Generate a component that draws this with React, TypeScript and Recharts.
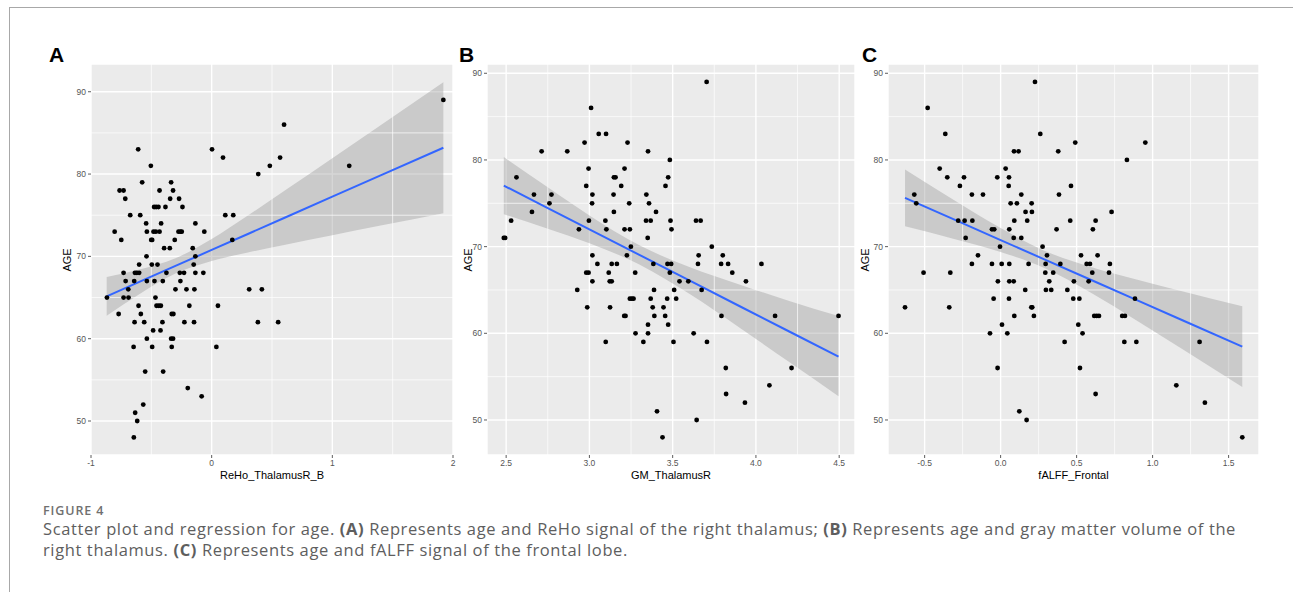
import React from "react";
import {
  ComposedChart,
  Scatter,
  Line,
  Area,
  XAxis,
  YAxis,
  CartesianGrid,
  ReferenceLine,
} from "recharts";

// ---------- Panel A: ReHo_ThalamusR_B vs AGE ----------
const reHoPoints: [number, number][] = [
  [1.92, 89], [0.6, 86], [-0.609, 83], [0.003, 83], [0.094, 82], [0.567, 82],
  [-0.504, 81], [0.482, 81], [1.14, 81], [0.386, 80], [-0.576, 79], [-0.336, 79],
  [-0.763, 78], [-0.73, 78], [-0.432, 78], [-0.32, 78], [-0.716, 77], [-0.344, 77],
  [-0.27, 77], [-0.477, 76], [-0.46, 76], [-0.441, 76], [-0.383, 76], [-0.242, 76],
  [-0.675, 75], [-0.592, 75], [0.113, 75], [0.179, 75], [-0.543, 74], [-0.419, 74],
  [-0.135, 74], [-0.804, 73], [-0.537, 73], [-0.482, 73], [-0.463, 73], [-0.432, 73],
  [-0.275, 73], [-0.259, 73], [-0.248, 73], [-0.061, 73], [-0.749, 72], [-0.501, 72],
  [-0.493, 72], [-0.306, 72], [0.171, 72], [-0.394, 71], [-0.347, 71], [-0.157, 71],
  [-0.54, 70], [-0.135, 70], [-0.601, 69], [-0.496, 69], [-0.449, 69], [-0.149, 69],
  [-0.73, 68], [-0.636, 68], [-0.62, 68], [-0.601, 68], [-0.375, 68], [-0.264, 68],
  [-0.229, 68], [-0.135, 68], [-0.069, 68], [-0.713, 67], [-0.642, 67], [-0.537, 67],
  [-0.474, 67], [-0.405, 67], [-0.259, 67], [-0.691, 66], [-0.3, 66], [-0.209, 66],
  [-0.143, 66], [0.311, 66], [0.416, 66], [-0.868, 65], [-0.73, 65], [-0.689, 65],
  [-0.466, 65], [-0.606, 64], [-0.457, 64], [-0.438, 64], [-0.421, 64], [-0.185, 64],
  [0.052, 64], [-0.771, 63], [-0.587, 63], [-0.331, 63], [-0.317, 63], [-0.639, 62],
  [-0.559, 62], [-0.408, 62], [-0.226, 62], [-0.146, 62], [0.383, 62], [0.551, 62],
  [-0.485, 61], [-0.424, 61], [-0.537, 60], [-0.336, 60], [-0.32, 60], [-0.647, 59],
  [-0.493, 59], [-0.331, 59], [0.039, 59], [-0.551, 56], [-0.402, 56], [-0.198, 54],
  [-0.083, 53], [-0.567, 52], [-0.634, 51], [-0.617, 50], [-0.645, 48],
];
const reHoFitX = [-0.87, -0.6, -0.3, 0, 0.3, 0.6, 1.0, 1.4, 1.92];
const reHoFit = [65.15, 66.9, 68.84, 70.78, 72.72, 74.66, 77.25, 79.84, 83.2];
const reHoLow = [62.8, 65.4, 67.91, 69.44, 70.47, 71.39, 72.58, 73.75, 75.25];
const reHoHigh = [67.5, 68.4, 69.77, 72.12, 74.97, 77.93, 81.92, 85.93, 91.15];
const reHoXTicks = [-1, 0, 1, 2];
const reHoXMinor = [-0.5, 0.5, 1.5];

// ---------- Panel B: GM_ThalamusR vs AGE ----------
const gmPoints: [number, number][] = [
  [3.704, 89], [3.01, 86], [3.056, 83], [3.1, 83], [2.971, 82], [3.229, 82],
  [2.713, 81], [2.867, 81], [3.352, 81], [3.483, 80], [2.995, 79], [3.211, 79],
  [2.562, 78], [3.147, 78], [3.157, 78], [3.473, 78], [2.981, 77], [3.191, 77],
  [3.457, 77], [2.667, 76], [2.772, 76], [3.018, 76], [3.145, 76], [3.342, 76],
  [2.76, 75], [3.016, 75], [3.239, 75], [3.358, 75], [2.655, 74], [3.147, 74],
  [3.4, 74], [2.53, 73], [2.997, 73], [3.096, 73], [3.34, 73], [3.368, 73],
  [3.487, 73], [3.64, 73], [3.668, 73], [2.937, 72], [3.102, 72], [3.211, 72],
  [3.243, 72], [3.493, 72], [2.486, 71], [2.494, 71], [3.35, 71], [3.249, 70],
  [3.735, 70], [3.018, 69], [3.225, 69], [3.656, 69], [3.801, 69], [3.048, 68],
  [3.134, 68], [3.165, 68], [3.384, 68], [3.469, 68], [3.491, 68], [3.652, 68],
  [3.791, 68], [3.833, 68], [4.033, 68], [2.981, 67], [2.995, 67], [3.116, 67],
  [3.275, 67], [3.483, 67], [3.858, 67], [3.018, 66], [3.122, 66], [3.134, 66],
  [3.541, 66], [3.594, 66], [3.94, 66], [2.927, 65], [3.388, 65], [3.509, 65],
  [3.674, 65], [3.243, 64], [3.255, 64], [3.265, 64], [3.368, 64], [3.467, 64],
  [3.521, 64], [2.987, 63], [3.124, 63], [3.38, 63], [3.445, 63], [3.209, 62],
  [3.217, 62], [3.39, 62], [3.455, 62], [3.793, 62], [4.115, 62], [4.496, 62],
  [3.352, 61], [3.473, 61], [3.277, 60], [3.352, 60], [3.626, 60], [3.098, 59],
  [3.324, 59], [3.505, 59], [3.706, 59], [3.819, 56], [4.214, 56], [4.081, 54],
  [3.821, 53], [3.934, 52], [3.406, 51], [3.644, 50], [3.439, 48],
];
const gmFitX = [2.486, 2.75, 3.0, 3.3, 3.6, 3.9, 4.2, 4.496];
const gmFit = [77.04, 74.45, 71.99, 69.05, 66.1, 63.15, 60.21, 57.3];
const gmLow = [73.74, 72.06, 70.38, 67.95, 64.55, 60.67, 56.68, 52.75];
const gmHigh = [80.34, 76.84, 73.6, 70.15, 67.65, 65.63, 63.74, 62.0];
const gmXTicks = [2.5, 3.0, 3.5, 4.0, 4.5];
const gmXMinor = [2.75, 3.25, 3.75, 4.25];

// ---------- Panel C: fALFF_Frontal vs AGE ----------
const falffPoints: [number, number][] = [
  [0.226, 89], [-0.48, 86], [-0.364, 83], [0.261, 83], [0.491, 82], [0.952, 82],
  [0.088, 81], [0.118, 81], [0.379, 81], [0.831, 80], [-0.401, 79], [0.033, 79],
  [-0.351, 78], [-0.241, 78], [-0.022, 78], [0.055, 78], [-0.268, 77], [0.053, 77],
  [0.463, 77], [-0.568, 76], [-0.189, 76], [-0.116, 76], [0.136, 76], [0.384, 76],
  [-0.555, 75], [0.066, 75], [0.107, 75], [0.204, 75], [0.164, 74], [0.206, 74],
  [0.73, 74], [-0.279, 73], [-0.237, 73], [-0.186, 73], [0.09, 73], [0.175, 73],
  [0.458, 73], [0.625, 73], [-0.057, 72], [-0.042, 72], [0.057, 72], [0.368, 72],
  [0.607, 72], [-0.23, 71], [0.086, 71], [0.136, 71], [-0.004, 70], [0.276, 70],
  [-0.149, 69], [0.305, 69], [0.529, 69], [0.638, 69], [-0.189, 68], [-0.057, 68],
  [0.007, 68], [0.057, 68], [0.184, 68], [0.296, 68], [0.393, 68], [0.566, 68],
  [0.588, 68], [0.719, 68], [-0.507, 67], [-0.331, 67], [0.294, 67], [0.346, 67],
  [0.603, 67], [0.713, 67], [-0.018, 66], [0.057, 66], [0.086, 66], [0.32, 66],
  [0.482, 66], [0.579, 66], [0.162, 65], [0.298, 65], [0.333, 65], [0.439, 65],
  [-0.046, 64], [0.055, 64], [0.478, 64], [0.518, 64], [0.884, 64], [-0.629, 63],
  [-0.338, 63], [0.202, 63], [0.208, 63], [0.09, 62], [0.219, 62], [0.616, 62],
  [0.632, 62], [0.647, 62], [0.8, 62], [0.818, 62], [0.009, 61], [0.511, 61],
  [-0.07, 60], [0.044, 60], [0.539, 60], [0.421, 59], [0.814, 59], [0.893, 59],
  [1.309, 59], [-0.02, 56], [0.522, 56], [1.156, 54], [0.625, 53], [1.344, 52],
  [0.123, 51], [0.171, 50], [1.59, 48],
];
const falffFitX = [-0.629, -0.3, 0, 0.28, 0.6, 0.9, 1.2, 1.59];
const falffFit = [75.62, 73.08, 70.76, 68.59, 66.12, 63.8, 61.48, 58.46];
const falffLow = [72.34, 70.86, 69.38, 67.59, 64.62, 61.42, 58.14, 53.81];
const falffHigh = [78.9, 75.3, 72.14, 69.59, 67.62, 66.18, 64.82, 63.11];
const falffXTicks = [-0.5, 0.0, 0.5, 1.0, 1.5];
const falffXMinor = [-0.25, 0.25, 0.75, 1.25];

const ageTicks = [50, 60, 70, 80, 90];
const ageMinor = [55, 65, 75, 85];

const FONT = "'Liberation Sans', Arial, Helvetica, sans-serif";
const CAPTION_FONT = "'Open Sans', 'Noto Sans', sans-serif";

type PanelProps = {
  letter: string;
  xTitle: string;
  points: [number, number][];
  fitX: number[];
  fit: number[];
  low: number[];
  high: number[];
  xTicks: number[];
  xMinor: number[];
  xDomain: [number, number];
  yDomain: [number, number];
  plotLeft: number;
  plotRight: number;
  decimals: number;
  letterLeft: number;
  ageLeft: number;
};

const PLOT_TOP = 64;
const PLOT_BOTTOM = 455;
const Y_AXIS_W = 50;
const X_AXIS_H = 20;

const Dot = (props: any) => {
  const { cx, cy } = props;
  if (cx == null || cy == null) return null;
  return <circle cx={cx} cy={cy} r={2.4} fill="#000000" />;
};

function Panel(p: PanelProps) {
  const chartLeft = p.plotLeft - Y_AXIS_W;
  const chartTop = PLOT_TOP - 10;
  const width = p.plotRight - chartLeft + 5;
  const height = PLOT_BOTTOM - chartTop + X_AXIS_H;
  const lineData = p.fitX.map((x, i) => ({
    x,
    fit: p.fit[i],
    band: [p.low[i], p.high[i]],
  }));
  const scatterData = p.points.map(([x, y]) => ({ x, y }));
  const tickStyle = { fontSize: 8.5, fill: "#555555", fontFamily: FONT };
  const centerX = (p.plotLeft + p.plotRight) / 2;
  return (
    <>
      <div
        style={{
          position: "absolute",
          left: p.letterLeft,
          top: 44,
          fontFamily: FONT,
          fontWeight: 700,
          fontSize: 21,
          lineHeight: "21px",
          color: "#000",
        }}
      >
        {p.letter}
      </div>
      <div style={{ position: "absolute", left: chartLeft, top: chartTop }}>
        <ComposedChart
          width={width}
          height={height}
          data={lineData}
          margin={{ top: 10, right: 5, bottom: 0, left: 0 }}
        >
          <CartesianGrid
            fill="#EBEBEB"
            stroke="#FFFFFF"
            strokeWidth={1.4}
          />
          {p.xMinor.map((v) => (
            <ReferenceLine key={"vx" + v} x={v} stroke="#FFFFFF" strokeWidth={0.7} />
          ))}
          {ageMinor.map((v) => (
            <ReferenceLine key={"hy" + v} y={v} stroke="#FFFFFF" strokeWidth={0.7} />
          ))}
          <XAxis
            type="number"
            dataKey="x"
            domain={p.xDomain}
            ticks={p.xTicks}
            allowDataOverflow
            axisLine={false}
            tickLine={{ stroke: "#333333", strokeWidth: 0.8 }}
            tickSize={3}
            tickMargin={2}
            height={X_AXIS_H}
            interval={0}
            tick={tickStyle}
            tickFormatter={(v: number) => v.toFixed(p.decimals)}
          />
          <YAxis
            type="number"
            dataKey="y"
            domain={p.yDomain}
            ticks={ageTicks}
            allowDataOverflow
            axisLine={false}
            tickLine={{ stroke: "#333333", strokeWidth: 0.8 }}
            tickSize={3}
            tickMargin={2}
            width={Y_AXIS_W}
            interval={0}
            tick={tickStyle}
          />
          <Scatter
            data={scatterData}
            dataKey="y"
            shape={Dot}
            isAnimationActive={false}
          />
          <Area
            type="monotone"
            dataKey="band"
            stroke="none"
            fill="#999999"
            fillOpacity={0.4}
            isAnimationActive={false}
            dot={false}
            activeDot={false}
          />
          <Line
            type="linear"
            dataKey="fit"
            stroke="#3366FF"
            strokeWidth={2}
            dot={false}
            activeDot={false}
            isAnimationActive={false}
          />
        </ComposedChart>
      </div>
      <div
        style={{
          position: "absolute",
          left: p.ageLeft,
          top: (PLOT_TOP + PLOT_BOTTOM) / 2,
          transform: "translate(-50%, -50%) rotate(-90deg)",
          fontFamily: FONT,
          fontSize: 11,
          color: "#000",
          whiteSpace: "nowrap",
        }}
      >
        AGE
      </div>
      <div
        style={{
          position: "absolute",
          left: centerX,
          top: 475,
          transform: "translate(-50%, -50%)",
          fontFamily: FONT,
          fontSize: 11,
          color: "#000",
          whiteSpace: "nowrap",
        }}
      >
        {p.xTitle}
      </div>
    </>
  );
}

export default function App() {
  return (
    <div
      style={{
        position: "absolute",
        left: 0,
        top: 0,
        width: 1293,
        height: 592,
        background: "#ffffff",
        overflow: "hidden",
      }}
    >
      <div
        style={{
          position: "absolute",
          left: 9,
          top: 7,
          width: 1300,
          height: 600,
          borderTop: "1px solid #a8a8a8",
          borderLeft: "1px solid #a8a8a8",
        }}
      />
      <Panel
        letter="A"
        xTitle="ReHo_ThalamusR_B"
        points={reHoPoints}
        fitX={reHoFitX}
        fit={reHoFit}
        low={reHoLow}
        high={reHoHigh}
        xTicks={reHoXTicks}
        xMinor={reHoXMinor}
        xDomain={[-1, 2]}
        yDomain={[45.87, 93.37]}
        plotLeft={91}
        plotRight={453}
        decimals={0}
        letterLeft={49}
        ageLeft={67}
      />
      <Panel
        letter="B"
        xTitle="GM_ThalamusR"
        points={gmPoints}
        fitX={gmFitX}
        fit={gmFit}
        low={gmLow}
        high={gmHigh}
        xTicks={gmXTicks}
        xMinor={gmXMinor}
        xDomain={[2.385, 4.595]}
        yDomain={[45.96, 91.07]}
        plotLeft={487}
        plotRight={855}
        decimals={1}
        letterLeft={459}
        ageLeft={468}
      />
      <Panel
        letter="C"
        xTitle="fALFF_Frontal"
        points={falffPoints}
        fitX={falffFitX}
        fit={falffFit}
        low={falffLow}
        high={falffHigh}
        xTicks={falffXTicks}
        xMinor={falffXMinor}
        xDomain={[-0.741, 1.7]}
        yDomain={[45.96, 91.07]}
        plotLeft={888}
        plotRight={1259}
        decimals={1}
        letterLeft={862}
        ageLeft={865}
      />
      <div
        style={{
          position: "absolute",
          left: 43,
          top: 505,
          fontFamily: CAPTION_FONT,
          fontWeight: 600,
          fontSize: 12.5,
          letterSpacing: 0.9,
          lineHeight: "12px",
          color: "#707070",
          whiteSpace: "nowrap",
        }}
      >
        FIGURE 4
      </div>
      <div
        style={{
          position: "absolute",
          left: 43,
          top: 518,
          fontFamily: CAPTION_FONT,
          fontSize: 16.5,
          letterSpacing: 0.62,
          lineHeight: "21px",
          color: "#5e5e5e",
          whiteSpace: "nowrap",
        }}
      >
        Scatter plot and regression for age. <b>(A)</b> Represents age and ReHo
        signal of the right thalamus; <b>(B)</b> Represents age and gray matter
        volume of the
        <br />
        right thalamus. <b>(C)</b> Represents age and fALFF signal of the frontal
        lobe.
      </div>
    </div>
  );
}
